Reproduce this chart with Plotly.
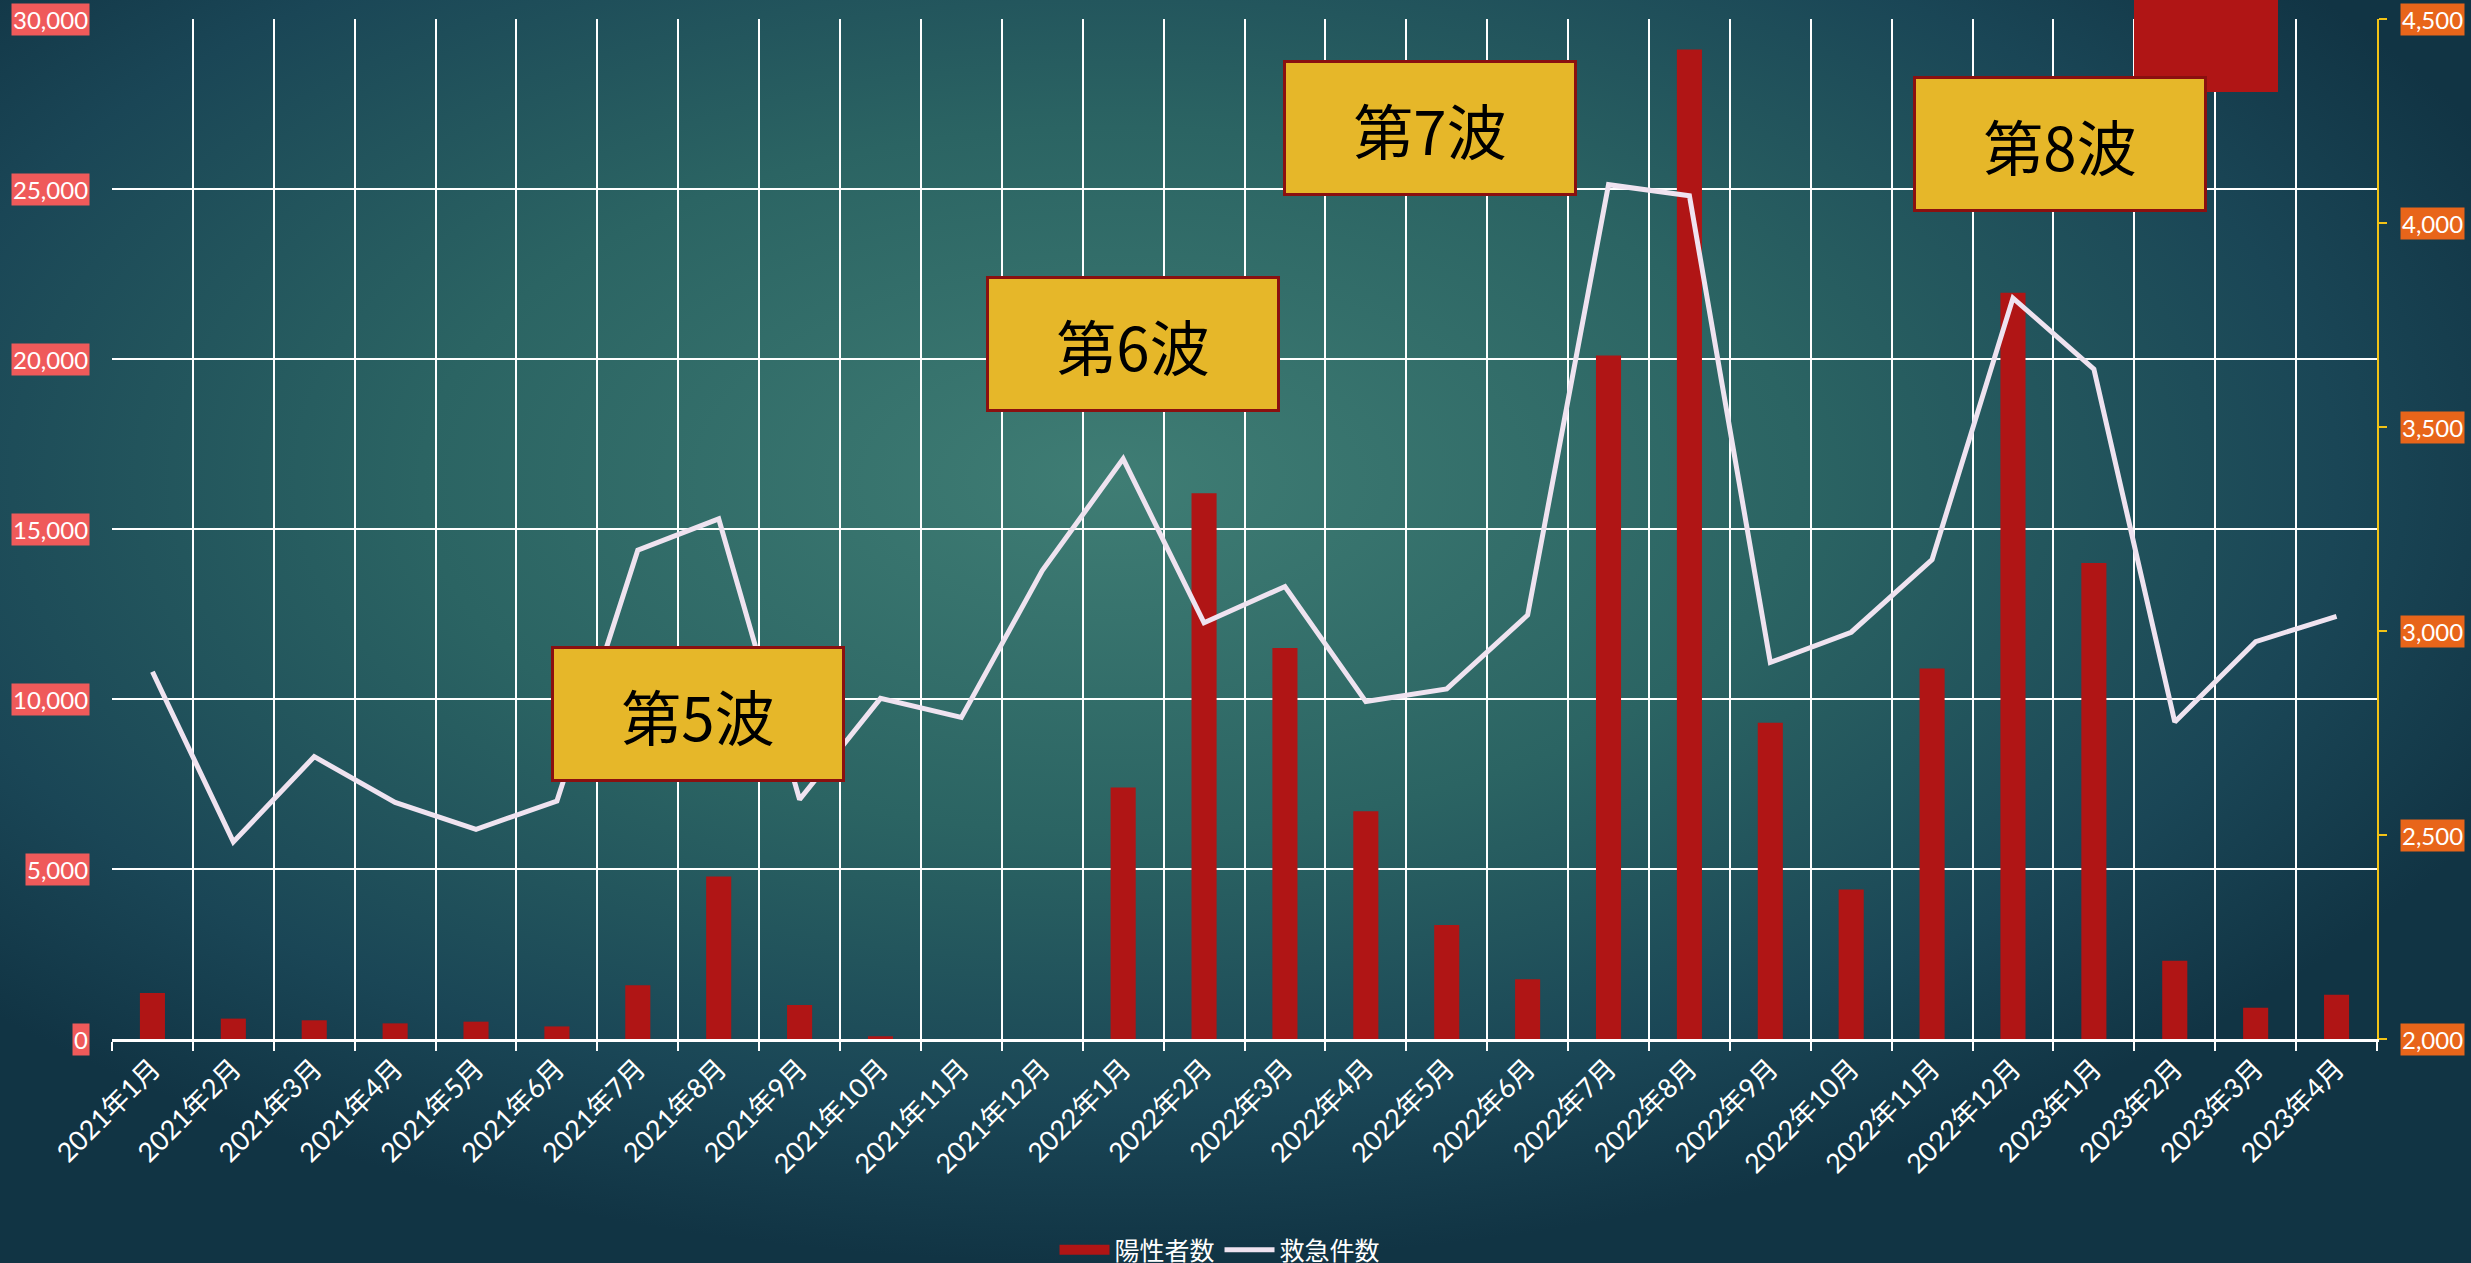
import base64
import plotly.graph_objects as go

months = ["2021年1月", "2021年2月", "2021年3月", "2021年4月", "2021年5月", "2021年6月",
          "2021年7月", "2021年8月", "2021年9月", "2021年10月", "2021年11月", "2021年12月",
          "2022年1月", "2022年2月", "2022年3月", "2022年4月", "2022年5月", "2022年6月",
          "2022年7月", "2022年8月", "2022年9月", "2022年10月", "2022年11月", "2022年12月",
          "2023年1月", "2023年2月", "2023年3月", "2023年4月"]
positives = [1350, 600, 550, 460, 510, 370, 1580, 4780, 1000, 80, 0, 0,
             7400, 16050, 11500, 6700, 3350, 1760, 20100, 29100, 9300, 4400, 10900, 21950,
             14000, 2300, 920, 1300]
emergency = [2900, 2483, 2692, 2580, 2514, 2583, 3198, 3275, 2587, 2835, 2788, 3148,
             3422, 3020, 3109, 2827, 2858, 3039, 4094, 4067, 2923, 2997, 3175, 3816,
             3642, 2777, 2974, 3036]
left_ticks = [0, 5000, 10000, 15000, 20000, 25000, 30000]
right_ticks = [2000, 2500, 3000, 3500, 4000, 4500]
wave_labels = ["第5波", "第6波", "第7波", "第8波"]
series_names = ["陽性者数", "救急件数"]

W, H = 2471, 1263
L, R, T, B = 112, 94, 19, 224
PW, PH = W - L - R, H - T - B


def px(x):
    return (x - L) / PW


def py(y):
    return (H - B - y) / PH


FONT = "Lato, 'Noto Sans CJK JP', sans-serif"

svg = f'''<svg xmlns="http://www.w3.org/2000/svg" width="{W}" height="{H}" viewBox="0 0 {W} {H}" preserveAspectRatio="none">
<defs><radialGradient id="g" cx="0.45" cy="0.38" r="0.62">
<stop offset="0" stop-color="#3f7d74"/>
<stop offset="0.45" stop-color="#2b6463"/>
<stop offset="0.8" stop-color="#1a4656"/>
<stop offset="1" stop-color="#113444"/>
</radialGradient></defs>
<rect x="0" y="0" width="{W}" height="{H}" fill="url(#g)"/></svg>'''
bg_uri = "data:image/svg+xml;base64," + base64.b64encode(svg.encode()).decode()

fig = go.Figure()
fig.add_trace(go.Bar(x=months, y=positives, name=series_names[0], marker_color="#b01515",
                     marker_line_width=0, width=0.31, yaxis="y", showlegend=False))
fig.add_trace(go.Scatter(x=[None], y=[None], name=series_names[0], mode="lines",
                         line=dict(color="#b01515", width=11), yaxis="y", showlegend=True))
fig.add_trace(go.Scatter(x=months, y=emergency, name=series_names[1], mode="lines",
                         line=dict(color="#efe3f0", width=5), yaxis="y2"))

annotations = []
for v in left_ticks:
    annotations.append(dict(xref="paper", yref="y", x=px(90), y=v, xanchor="right", yanchor="middle",
                            text=f"{v:,}", showarrow=False, bgcolor="#ef5a5a", borderpad=1,
                            font=dict(family=FONT, size=24, color="white")))
for v in right_ticks:
    annotations.append(dict(xref="paper", yref="y2", x=px(2400), y=v, xanchor="left", yanchor="middle",
                            text=f"{v:,}", showarrow=False, bgcolor="#e8651a", borderpad=1,
                            font=dict(family=FONT, size=24, color="white")))

wave_pos = [(698, 714), (1133, 344), (1430, 128), (2060, 144)]
for lab, (cx, cy) in zip(wave_labels, wave_pos):
    annotations.append(dict(xref="paper", yref="paper", x=px(cx), y=py(cy), xanchor="center",
                            yanchor="middle", text=lab, showarrow=False, bgcolor="#e6b729",
                            bordercolor="#8a1010", borderwidth=3, borderpad=0, width=288, height=130,
                            font=dict(family="'Noto Sans CJK JP', sans-serif", size=60, color="black")))

fig.update_layout(
    width=W, height=H,
    margin=dict(l=L, r=R, t=T, b=B, autoexpand=False),
    template="none",
    paper_bgcolor="#173f4e",
    plot_bgcolor="rgba(0,0,0,0)",
    font=dict(family=FONT, color="white"),
    images=[dict(source=bg_uri, xref="paper", yref="paper", x=-L / PW, y=1 + T / PH,
                 sizex=W / PW, sizey=H / PH, xanchor="left", yanchor="top",
                 sizing="stretch", layer="below")],
    xaxis=dict(type="category", tickson="boundaries", ticks="outside", ticklen=9, tickwidth=2,
               tickcolor="white", showgrid=True, gridcolor="white", gridwidth=2,
               showline=True, linecolor="white", linewidth=3, tickangle=-45,
               tickfont=dict(family=FONT, size=27, color="white"), automargin=False),
    yaxis=dict(range=[0, 30000], tickvals=left_ticks, showticklabels=False, showgrid=True,
               gridcolor="white", gridwidth=2, zeroline=False, showline=False, ticks="",
               automargin=False),
    yaxis2=dict(range=[2000, 4500], tickvals=right_ticks, overlaying="y", side="right",
                showticklabels=False, showgrid=False, zeroline=False, showline=True,
                linecolor="#f3c316", linewidth=2, ticks="outside", ticklen=8, tickwidth=2,
                tickcolor="#f3c316", automargin=False),
    legend=dict(orientation="h", x=px(1220), xanchor="center", y=py(1250), yanchor="middle",
                font=dict(family=FONT, size=25, color="white"), bgcolor="rgba(0,0,0,0)",
                itemwidth=50, traceorder="normal"),
    showlegend=True,
    annotations=annotations,
    shapes=[dict(type="rect", xref="paper", yref="paper", x0=px(2134), x1=px(2278),
                 y0=py(92), y1=py(0), fillcolor="#b01515", line_width=0, layer="above")],
)

post = ("document.documentElement.style.margin='0';document.body.style.margin='0';"
        "document.documentElement.style.overflow='hidden';document.body.style.overflow='hidden';"
        "document.body.style.background='#173f4e';")
fig.write_html("out.html", post_script=post, config={"displayModeBar": False})
